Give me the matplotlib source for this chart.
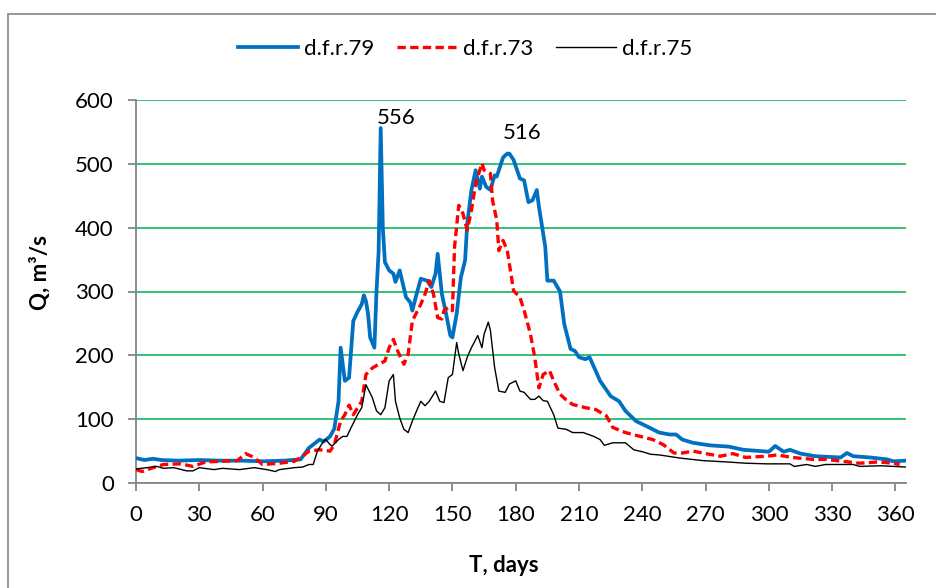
import matplotlib
matplotlib.use("Agg")
import matplotlib.pyplot as plt
from matplotlib.patches import Rectangle

# discharge series, day of year -> Q (m3/s)
days_79 = [0, 4, 8, 12, 20, 30, 40, 50, 60, 70, 78, 82, 87, 89, 92, 94, 96, 97, 99, 101,
           103, 105, 107, 108, 109, 110, 111, 113, 114, 115, 116, 117, 118, 120, 122, 123, 125, 128, 130, 131,
           133, 135, 138, 140, 142, 143, 145, 147, 149, 150, 152, 154, 156, 157, 159, 161, 163, 164, 166, 168,
           170, 171, 172, 174, 176, 177, 179, 182, 184, 186, 188, 190, 191, 194, 195, 198, 201, 203, 206, 208,
           210, 213, 215, 218, 220, 225, 229, 232, 237, 242, 248, 253, 256, 259, 264, 272, 281, 288, 296, 300,
           303, 307, 310, 315, 322, 334, 337, 340, 348, 356, 359, 365]
q_79 = [39, 36, 38, 36, 35, 36, 35, 35, 34, 35, 37, 55, 68, 65, 73, 85, 128, 212, 160, 165,
        254, 268, 280, 294, 285, 265, 228, 212, 300, 362, 556, 400, 346, 333, 328, 315, 333, 291, 283, 270,
        296, 320, 317, 307, 328, 359, 296, 265, 231, 228, 265, 322, 349, 406, 459, 490, 461, 480, 464, 459,
        482, 480, 490, 510, 516, 516, 506, 477, 474, 440, 443, 459, 433, 370, 317, 317, 300, 249, 210, 207,
        197, 194, 197, 175, 160, 136, 128, 113, 97, 89, 79, 76, 76, 68, 63, 59, 57, 52, 50, 49,
        58, 49, 52, 46, 42, 40, 47, 42, 40, 37, 34, 35]

days_73 = [0, 3, 8, 13, 21, 27, 33, 40, 48, 52, 56, 60, 68, 75, 79, 82, 87, 92, 94, 97,
           99, 101, 103, 107, 109, 112, 115, 118, 120, 122, 124, 127, 129, 131, 135, 137, 139, 141, 143, 145,
           146, 148, 150, 151, 153, 155, 157, 159, 161, 164, 165, 168, 169, 171, 172, 174, 176, 179, 182, 184,
           187, 189, 191, 193, 196, 198, 201, 204, 207, 213, 218, 223, 226, 232, 239, 245, 250, 255, 259, 264,
           270, 277, 283, 289, 299, 304, 311, 321, 327, 335, 343, 352, 359, 362]
q_73 = [21, 18, 24, 29, 30, 26, 33, 34, 35, 46, 40, 29, 31, 34, 42, 50, 52, 50, 60, 97,
        107, 122, 107, 128, 170, 180, 186, 191, 212, 225, 207, 186, 202, 254, 280, 296, 317, 296, 259, 257,
        270, 275, 270, 370, 435, 422, 396, 427, 469, 501, 490, 485, 443, 412, 364, 380, 364, 301, 291, 270,
        233, 197, 149, 170, 176, 160, 139, 130, 123, 118, 115, 105, 87, 79, 73, 68, 60, 47, 47, 50,
        46, 42, 46, 40, 42, 44, 40, 37, 37, 34, 31, 33, 31, 29]

days_75 = [0, 5, 10, 13, 18, 24, 27, 30, 37, 41, 49, 56, 62, 66, 68, 75, 79, 82, 84, 86,
           89, 90, 92, 93, 96, 98, 100, 102, 105, 107, 109, 112, 114, 116, 118, 120, 122, 123, 125, 127,
           129, 131, 133, 135, 137, 139, 142, 144, 146, 148, 150, 152, 153, 155, 157, 159, 162, 164, 165, 167,
           168, 170, 172, 175, 177, 180, 182, 184, 187, 189, 191, 193, 195, 198, 200, 204, 207, 212, 217, 220,
           222, 226, 232, 236, 240, 244, 248, 258, 269, 280, 289, 299, 310, 312, 318, 322, 327, 340, 343, 353,
           365]
q_75 = [22, 24, 26, 23, 24, 19, 19, 24, 21, 23, 21, 24, 21, 18, 21, 24, 25, 29, 29, 50,
        66, 68, 60, 58, 68, 73, 73, 87, 107, 118, 154, 134, 113, 107, 118, 160, 170, 128, 102, 84,
        79, 97, 113, 128, 121, 128, 144, 128, 126, 165, 170, 220, 202, 176, 197, 212, 231, 212, 233, 252,
        239, 181, 144, 142, 155, 160, 144, 142, 131, 131, 136, 129, 128, 107, 86, 84, 79, 79, 73, 68,
        59, 63, 63, 52, 49, 45, 44, 39, 35, 33, 31, 30, 30, 26, 29, 26, 29, 29, 26, 27,
        25]

peak_labels = [(116, 556), (176, 516)]

plt.rcParams['font.family'] = ['Lato', 'DejaVu Sans']
axis_grey = '#868686'
fs = 16

fig = plt.figure(figsize=(9.37, 5.88), dpi=100)
ax = fig.add_axes([136 / 937, 1 - 483 / 588, 770 / 937, 383 / 588])

ax.plot(days_79, q_79, color='#0070C0', linewidth=2.7, label='d.f.r.79', zorder=3)
ax.plot(days_73, q_73, color='#FF0000', linewidth=2.4, dashes=(2.5, 1.3), label='d.f.r.73', zorder=4)
ax.plot(days_75, q_75, color='black', linewidth=1.0, label='d.f.r.75', zorder=5)

for day, q in peak_labels:
    off = 4 if q > 540 else 15
    ax.annotate(str(q), xy=(day, q), xytext=(15, off), textcoords='offset pixels',
                ha='center', va='baseline', fontsize=fs)

ax.set_xlim(0, 365)
ax.set_ylim(0, 600)
ax.set_xticks(range(0, 361, 30))
ax.set_yticks(range(0, 601, 100))
ax.yaxis.grid(True, color='#00B050', linewidth=1.1)
ax.set_axisbelow(True)

for side in ['top', 'right']:
    ax.spines[side].set_visible(False)
for side in ['left', 'bottom']:
    ax.spines[side].set_color(axis_grey)
    ax.spines[side].set_linewidth(1.3)
ax.tick_params(axis='both', direction='out', length=6, width=1.3, color=axis_grey,
               labelsize=fs, pad=10)

fig.text(504 / 937, 1 - 565 / 588, 'T, days', ha='center', va='center',
         fontsize=fs, fontweight='bold')
fig.text(40 / 937, 1 - 273 / 588, 'Q, m³/s', ha='center', va='center', rotation=90,
         fontsize=fs, fontweight='bold')

fig.legend(loc='center', bbox_to_anchor=(465 / 937, 1 - 49 / 588), ncol=3, frameon=False,
           fontsize=fs, handlelength=2.7, handletextpad=0.25, columnspacing=1.05)

# chart area border
fig.add_artist(Rectangle((8 / 937, -0.1), 1.2, 1.1 - 14 / 588, transform=fig.transFigure,
                         fill=False, edgecolor=axis_grey, linewidth=1.2))

fig.savefig('out.png', dpi=100)
